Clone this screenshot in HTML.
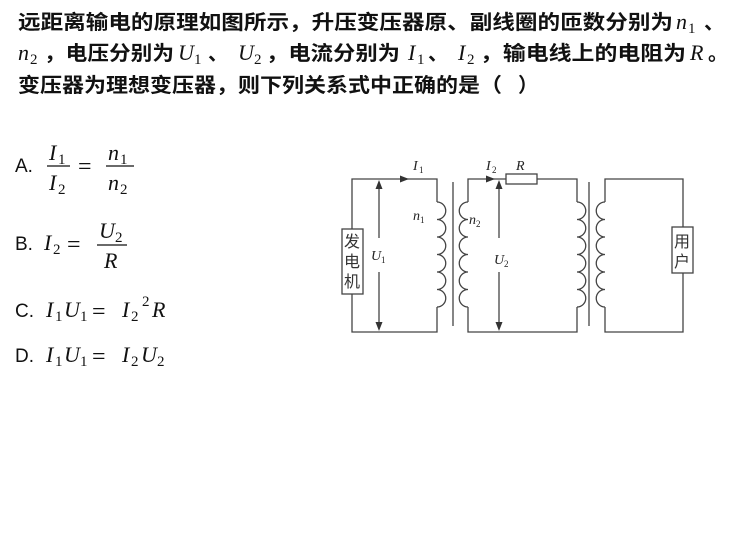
<!DOCTYPE html>
<html><head><meta charset="utf-8"><style>
html,body{margin:0;padding:0;background:#fff;}
svg{display:block;}
.c{font-family:"Liberation Sans","Noto Sans CJK SC",sans-serif;font-size:20px;font-weight:bold;fill:#111;}
.m{font-family:"Liberation Serif",serif;font-style:italic;font-size:22px;fill:#111;}
.s{font-family:"Liberation Serif",serif;font-size:15px;fill:#111;}
.o{font-family:"Liberation Sans",sans-serif;font-size:19px;fill:#111;}
.eq{font-family:"Liberation Serif",serif;font-size:24px;fill:#111;}
.d{font-family:"Liberation Serif",serif;font-style:italic;font-size:14px;fill:#222;}
.ds{font-family:"Liberation Serif",serif;font-size:9px;fill:#222;}
.dc{font-family:"Liberation Sans","Noto Sans CJK SC",sans-serif;font-size:16px;fill:#333;}
</style></head><body>
<svg width="732" height="548" viewBox="0 0 732 548" xmlns="http://www.w3.org/2000/svg">
<text class="c" x="18" y="29" textLength="655" lengthAdjust="spacingAndGlyphs">远距离输电的原理如图所示，升压变压器原、副线圈的匝数分别为</text>
<text class="m" x="676" y="29">n</text><text class="s" x="688" y="33">1</text>
<text class="c" x="704" y="29">、</text>

<text class="m" x="18" y="60">n</text><text class="s" x="30" y="64">2</text>
<text class="c" x="44" y="60" textLength="130" lengthAdjust="spacingAndGlyphs">，电压分别为</text>
<text class="m" x="178" y="60">U</text><text class="s" x="194" y="64">1</text>
<text class="c" x="208" y="60">、</text>
<text class="m" x="238" y="60">U</text><text class="s" x="254" y="64">2</text>
<text class="c" x="266" y="60" textLength="134" lengthAdjust="spacingAndGlyphs">，电流分别为</text>
<text class="m" x="408" y="60">I</text><text class="s" x="417" y="64">1</text>
<text class="c" x="428" y="60">、</text>
<text class="m" x="458" y="60">I</text><text class="s" x="467" y="64">2</text>
<text class="c" x="480" y="60" textLength="206" lengthAdjust="spacingAndGlyphs">，输电线上的电阻为</text>
<text class="m" x="690" y="60">R</text>
<text class="c" x="708" y="60">。</text>

<text class="c" x="18" y="92" textLength="484" lengthAdjust="spacingAndGlyphs">变压器为理想变压器，则下列关系式中正确的是（</text>
<text class="c" x="518" y="92">）</text>

<text class="o" x="15" y="172">A.</text>
<text class="m" x="49" y="160">I</text><text class="s" x="58" y="164">1</text>
<line x1="47" y1="166" x2="70" y2="166" stroke="#111" stroke-width="1.2"/>
<text class="m" x="49" y="190">I</text><text class="s" x="58" y="194">2</text>
<text class="eq" x="78" y="174">=</text>
<text class="m" x="108" y="160">n</text><text class="s" x="120" y="164">1</text>
<line x1="106" y1="166" x2="134" y2="166" stroke="#111" stroke-width="1.2"/>
<text class="m" x="108" y="190">n</text><text class="s" x="120" y="194">2</text>

<text class="o" x="15" y="250">B.</text>
<text class="m" x="44" y="250">I</text><text class="s" x="53" y="254">2</text>
<text class="eq" x="67" y="252">=</text>
<text class="m" x="99" y="238">U</text><text class="s" x="115" y="242">2</text>
<text class="m" x="104" y="268">R</text>
<line x1="97" y1="245" x2="127" y2="245" stroke="#111" stroke-width="1.2"/>

<text class="o" x="15" y="317">C.</text>
<text class="m" x="46" y="317">I</text><text class="s" x="55" y="321">1</text>
<text class="m" x="64" y="317">U</text><text class="s" x="80" y="321">1</text>
<text class="eq" x="92" y="319">=</text>
<text class="m" x="122" y="317">I</text><text class="s" x="131" y="321">2</text>
<text class="s" x="142" y="306">2</text>
<text class="m" x="152" y="317">R</text>

<text class="o" x="15" y="362">D.</text>
<text class="m" x="46" y="362">I</text><text class="s" x="55" y="366">1</text>
<text class="m" x="64" y="362">U</text><text class="s" x="80" y="366">1</text>
<text class="eq" x="92" y="364">=</text>
<text class="m" x="122" y="362">I</text><text class="s" x="131" y="366">2</text>
<text class="m" x="141" y="362">U</text><text class="s" x="157" y="366">2</text>

<g stroke="#444" stroke-width="1.3" fill="none">
<path d="M352 229 V179 H437 V202"/>
<path d="M437 307 V332 H352 V294"/>
<rect x="342" y="229" width="21" height="65"/>
<path d="M437 202 a8.75 8.75 0 0 1 0 17.5 a8.75 8.75 0 0 1 0 17.5 a8.75 8.75 0 0 1 0 17.5 a8.75 8.75 0 0 1 0 17.5 a8.75 8.75 0 0 1 0 17.5 a8.75 8.75 0 0 1 0 17.5"/>
<line x1="453" y1="182" x2="453" y2="326"/>
<path d="M468 202 V179 H506 M537 179 H577 V202"/>
<path d="M468 307 V332 H577 V307"/>
<rect x="506" y="174" width="31" height="10"/>
<path d="M468 202 a8.75 8.75 0 0 0 0 17.5 a8.75 8.75 0 0 0 0 17.5 a8.75 8.75 0 0 0 0 17.5 a8.75 8.75 0 0 0 0 17.5 a8.75 8.75 0 0 0 0 17.5 a8.75 8.75 0 0 0 0 17.5"/>
<path d="M577 202 a8.75 8.75 0 0 1 0 17.5 a8.75 8.75 0 0 1 0 17.5 a8.75 8.75 0 0 1 0 17.5 a8.75 8.75 0 0 1 0 17.5 a8.75 8.75 0 0 1 0 17.5 a8.75 8.75 0 0 1 0 17.5"/>
<line x1="589" y1="182" x2="589" y2="326"/>
<path d="M605 202 V179 H683 V227 M683 273 V332 H605 V307"/>
<path d="M605 202 a8.75 8.75 0 0 0 0 17.5 a8.75 8.75 0 0 0 0 17.5 a8.75 8.75 0 0 0 0 17.5 a8.75 8.75 0 0 0 0 17.5 a8.75 8.75 0 0 0 0 17.5 a8.75 8.75 0 0 0 0 17.5"/>
<rect x="672" y="227" width="21" height="46"/>
<line x1="379" y1="183" x2="379" y2="238"/>
<line x1="379" y1="272" x2="379" y2="328"/>
<line x1="499" y1="183" x2="499" y2="238"/>
<line x1="499" y1="272" x2="499" y2="328"/>
</g>
<g fill="#333">
<path d="M379 180 l-3.5 9 h7z"/><path d="M379 331 l-3.5 -9 h7z"/>
<path d="M499 180 l-3.5 9 h7z"/><path d="M499 331 l-3.5 -9 h7z"/>
<path d="M409 179 l-9 -3.5 v7z"/><path d="M495 179 l-9 -3.5 v7z"/>
</g>
<text class="d" x="413" y="170">I</text><text class="ds" x="419" y="173">1</text>
<text class="d" x="486" y="170">I</text><text class="ds" x="492" y="173">2</text>
<text class="d" x="516" y="170">R</text>
<text class="d" x="413" y="220">n</text><text class="ds" x="420" y="223">1</text>
<text class="d" x="469" y="224">n</text><text class="ds" x="476" y="227">2</text>
<text class="d" x="371" y="260">U</text><text class="ds" x="381" y="263">1</text>
<text class="d" x="494" y="264">U</text><text class="ds" x="504" y="267">2</text>
<text class="dc" x="344" y="247">发</text>
<text class="dc" x="344" y="267">电</text>
<text class="dc" x="344" y="287">机</text>
<text class="dc" x="674" y="247">用</text>
<text class="dc" x="674" y="267">户</text>
</svg>
</body></html>
